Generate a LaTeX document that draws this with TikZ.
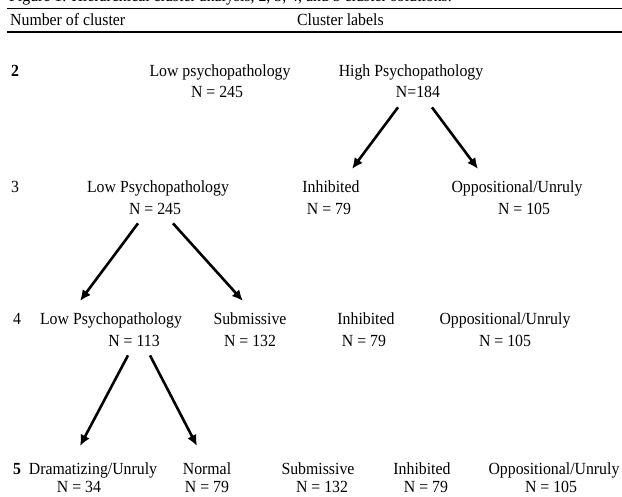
\documentclass[tikz,border=0pt]{standalone}
\usepackage{fontspec}
\setmainfont{Liberation Serif}[FakeStretch=0.93]
\usetikzlibrary{arrows.meta}

\begin{document}
\begin{tikzpicture}[x=1pt,y=-1pt,
		lbl/.style={anchor=base,inner sep=1pt,font=\fontsize{17}{20}\selectfont},
		num/.style={lbl,anchor=base west},
		arr/.style={-{Latex[length=11pt,width=10pt]},line width=2.6pt}]
		\useasboundingbox (0,0) rectangle (622,497);
		\clip (0,0) rectangle (622,497);
		% caption, cut at the top
		\node[num] (caption) at (8,2) {Figure 1. Hierarchical cluster analysis, 2, 3, 4, and 5 cluster solutions.};
		\draw[line width=1.3pt] (7,8.5) -- (622,8.5);
		\node[num] (numhead) at (9,26) {Number of cluster};
		\node[num] (labhead) at (296,26) {Cluster labels};
		\draw[line width=2pt] (7,32) -- (622,32);

		% 2 clusters
		\node[num,font=\fontsize{17}{20}\selectfont\bfseries] (n2) at (10,77) {2};
		\node[lbl] (low2) at (220,77) {Low psychopathology};
		\node[lbl] (low2n) at (217,98) {N = 245};
		\node[lbl] (high2) at (411,77) {High Psychopathology};
		\node[lbl] (high2n) at (418,98) {N=184};

		% 3 clusters
		\node[num] (n3) at (10,193) {3};
		\node[lbl] (low3) at (158,193) {Low Psychopathology};
		\node[lbl] (low3n) at (155,215) {N = 245};
		\node[lbl] (inh3) at (331,193) {Inhibited};
		\node[lbl] (inh3n) at (329,215) {N = 79};
		\node[lbl] (opp3) at (517,193) {Oppositional/Unruly};
		\node[lbl] (opp3n) at (524,215) {N = 105};

		% 4 clusters
		\node[num] (n4) at (12,325) {4};
		\node[lbl] (low4) at (111,325) {Low Psychopathology};
		\node[lbl] (low4n) at (134,347) {N = 113};
		\node[lbl] (sub4) at (250,325) {Submissive};
		\node[lbl] (sub4n) at (250,347) {N = 132};
		\node[lbl] (inh4) at (366,325) {Inhibited};
		\node[lbl] (inh4n) at (364,347) {N = 79};
		\node[lbl] (opp4) at (505,325) {Oppositional/Unruly};
		\node[lbl] (opp4n) at (505,347) {N = 105};

		% 5 clusters
		\node[num,font=\fontsize{17}{20}\selectfont\bfseries] (n5) at (12,475) {5};
		\node[lbl] (dram5) at (93,475) {Dramatizing/Unruly};
		\node[lbl] (dram5n) at (79,493) {N = 34};
		\node[lbl] (norm5) at (207,475) {Normal};
		\node[lbl] (norm5n) at (207,493) {N = 79};
		\node[lbl] (sub5) at (318,475) {Submissive};
		\node[lbl] (sub5n) at (322,493) {N = 132};
		\node[lbl] (inh5) at (422,475) {Inhibited};
		\node[lbl] (inh5n) at (426,493) {N = 79};
		\node[lbl] (opp5) at (554,475) {Oppositional/Unruly};
		\node[lbl] (opp5n) at (551,493) {N = 105};

		% splits
		\draw[arr] ([xshift=-20pt,yshift=-8pt]high2n.south) -- ([xshift=21pt,yshift=11pt]inh3.north);
		\draw[arr] ([xshift=14pt,yshift=-8pt]high2n.south) -- ([xshift=-39pt,yshift=11pt]opp3.north);
		\draw[arr] ([xshift=-17pt,yshift=-7pt]low3n.south) -- ([xshift=-31pt,yshift=11pt]low4.north);
		\draw[arr] ([xshift=18pt,yshift=-7pt]low3n.south) -- ([xshift=-7pt,yshift=11pt]sub4.north);
		\draw[arr] ([xshift=-6pt,yshift=-7pt]low4n.south) -- ([xshift=-13pt,yshift=16pt]dram5.north);
		\draw[arr] ([xshift=16pt,yshift=-7pt]low4n.south) -- ([xshift=-10pt,yshift=16pt]norm5.north);

		\end{tikzpicture}
\end{document}
